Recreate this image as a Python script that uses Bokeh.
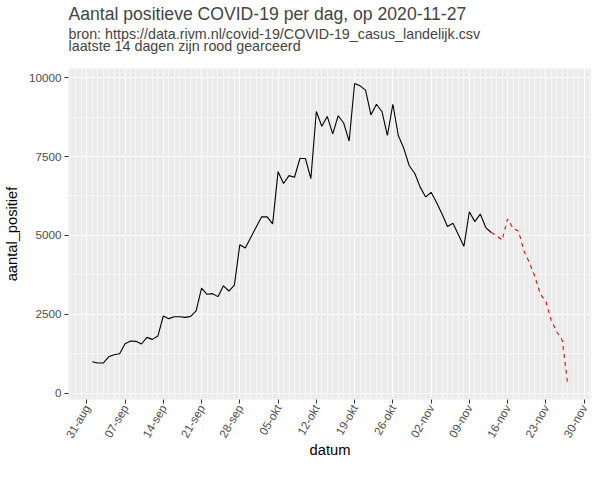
import math
from datetime import datetime, timedelta
import pandas as pd
from bokeh.plotting import figure
from bokeh.models import Range1d, FixedTicker, CustomJSTickFormatter, Title, ColumnDataSource
from bokeh.embed import file_html
from bokeh.resources import INLINE

# ---- data ----
start_date = "2020-09-01"
aantal_positief = [
    1000, 958, 958, 1156, 1219, 1250, 1573, 1656, 1646, 1562, 1771, 1708, 1812,
    2448, 2365, 2427, 2427, 2406, 2437, 2614, 3333, 3135, 3156, 3062, 3406, 3240,
    3427, 4708, 4604, 4937, 5271, 5590, 5590, 5365, 7021, 6646, 6896, 6844, 7438,
    7438, 6802, 8927, 8458, 8771, 8219, 8792, 8562, 7990, 9812, 9740, 9604, 8823,
    9156, 8927, 8167, 9156, 8167, 7760, 7208, 6969, 6531, 6219, 6365, 6042, 5677,
    5281, 5385, 5021, 4656, 5750, 5438, 5677, 5250, 5094, 4990, 4854, 5521, 5229,
    5130, 4500, 4135, 3690, 3140, 2900, 2300, 1950, 1680, 280,
]
n_red = 14
y_ticks = [0, 2500, 5000, 7500, 10000]
y_minor = [1250, 3750, 6250, 8750]
x_tick_start = "2020-08-31"
n_x_ticks = 14
month_names = ['jan', 'feb', 'mrt', 'apr', 'mei', 'jun', 'jul', 'aug', 'sep', 'okt', 'nov', 'dec']
title_text = "Aantal positieve COVID-19 per dag, op 2020-11-27"
subtitle_lines = ["bron: https://data.rivm.nl/covid-19/COVID-19_casus_landelijk.csv",
                  "laatste 14 dagen zijn rood gearceerd"]

dates = pd.date_range(start_date, periods=len(aantal_positief), freq="D")
n = len(aantal_positief)
black_src = ColumnDataSource(dict(datum=dates[: n - n_red], y=aantal_positief[: n - n_red]))
red_src = ColumnDataSource(dict(datum=dates[n - n_red - 1:], y=aantal_positief[n - n_red - 1:]))

epoch = datetime(1970, 1, 1)
def ms(d):
    return (d - epoch).total_seconds() * 1000.0

t0 = datetime.strptime(x_tick_start, "%Y-%m-%d")
major = [ms(t0 + timedelta(days=7 * i)) for i in range(n_x_ticks)]
minor = [ms(t0 + timedelta(days=i)) for i in range(-6, 7 * n_x_ticks)]

d_first = dates[0].to_pydatetime()
d_last = dates[-1].to_pydatetime()
span_days = (d_last - d_first).days
xpad = timedelta(days=span_days * 0.05)
ymin, ymax = min(aantal_positief), max(aantal_positief)
ypad = (ymax - ymin) * 0.05

FONT = "Liberation Sans"
FRAME_W, FRAME_H = 523, 331

p = figure(frame_width=FRAME_W, frame_height=FRAME_H, x_axis_type="datetime",
           x_range=Range1d(d_first - xpad, d_last + xpad),
           y_range=Range1d(ymin - ypad, ymax + ypad),
           output_backend="svg", toolbar_location=None,
           min_border_left=66, min_border_right=0, min_border_top=68, min_border_bottom=63)

p.background_fill_color = "#EBEBEB"
p.border_fill_color = "white"
p.outline_line_color = None

xt = FixedTicker(ticks=major, minor_ticks=minor)
p.xaxis.ticker = xt
p.xgrid.ticker = xt
yt = FixedTicker(ticks=y_ticks, minor_ticks=y_minor)
p.yaxis.ticker = yt
p.ygrid.ticker = yt

p.xaxis.formatter = CustomJSTickFormatter(args=dict(m=month_names), code="""
const d = new Date(tick);
const dd = String(d.getUTCDate()).padStart(2, '0');
return dd + '-' + m[d.getUTCMonth()];
""")

for g in (p.xgrid, p.ygrid):
    g.grid_line_color = "white"
    g.grid_line_width = 1.1
    g.minor_grid_line_color = "white"
    g.minor_grid_line_width = 0.55

for ax in (p.xaxis, p.yaxis):
    ax.axis_line_color = None
    ax.major_tick_line_color = "#333333"
    ax.major_tick_line_width = 1
    ax.major_tick_in = 0
    ax.major_tick_out = 4
    ax.minor_tick_line_color = None
    ax.major_label_text_font = FONT
    ax.major_label_text_font_size = "11.7px"
    ax.major_label_text_color = "#4D4D4D"
    ax.major_label_standoff = 3
    ax.axis_label_text_font = FONT
    ax.axis_label_text_font_size = "14.7px"
    ax.axis_label_text_font_style = "normal"
    ax.axis_label_text_color = "black"

p.xaxis.axis_label = "datum"
p.yaxis.axis_label = "aantal_positief"
p.xaxis.major_label_orientation = math.pi / 3
p.xaxis.major_label_standoff = 2
p.xaxis.axis_label_standoff = -5
p.yaxis.axis_label_standoff = 6

p.line("datum", "y", source=black_src, line_color="black", line_width=1.1)
p.line("datum", "y", source=red_src, line_color="red", line_width=1.1, line_dash="4 4")

# title block: stacked from the frame upwards (first added = closest to frame)
spacer = Title(text=" ", text_font=FONT, text_font_size="14.3px", standoff=2.4)
sub2 = Title(text=subtitle_lines[1], text_font=FONT, text_font_size="14.3px",
             text_font_style="normal", align="left", standoff=-11.4, offset=0)
sub1 = Title(text=subtitle_lines[0], text_font=FONT, text_font_size="14.3px",
             text_font_style="normal", align="left", standoff=0, offset=0)
main = Title(text=title_text, text_font=FONT, text_font_size="17.6px",
             text_font_style="normal", align="left", standoff=0, offset=0)
p.add_layout(spacer, "above")
p.add_layout(sub2, "above")
p.add_layout(sub1, "above")
p.add_layout(main, "above")
p.title.visible = False

open("out.html", "w").write(file_html(p, INLINE))
